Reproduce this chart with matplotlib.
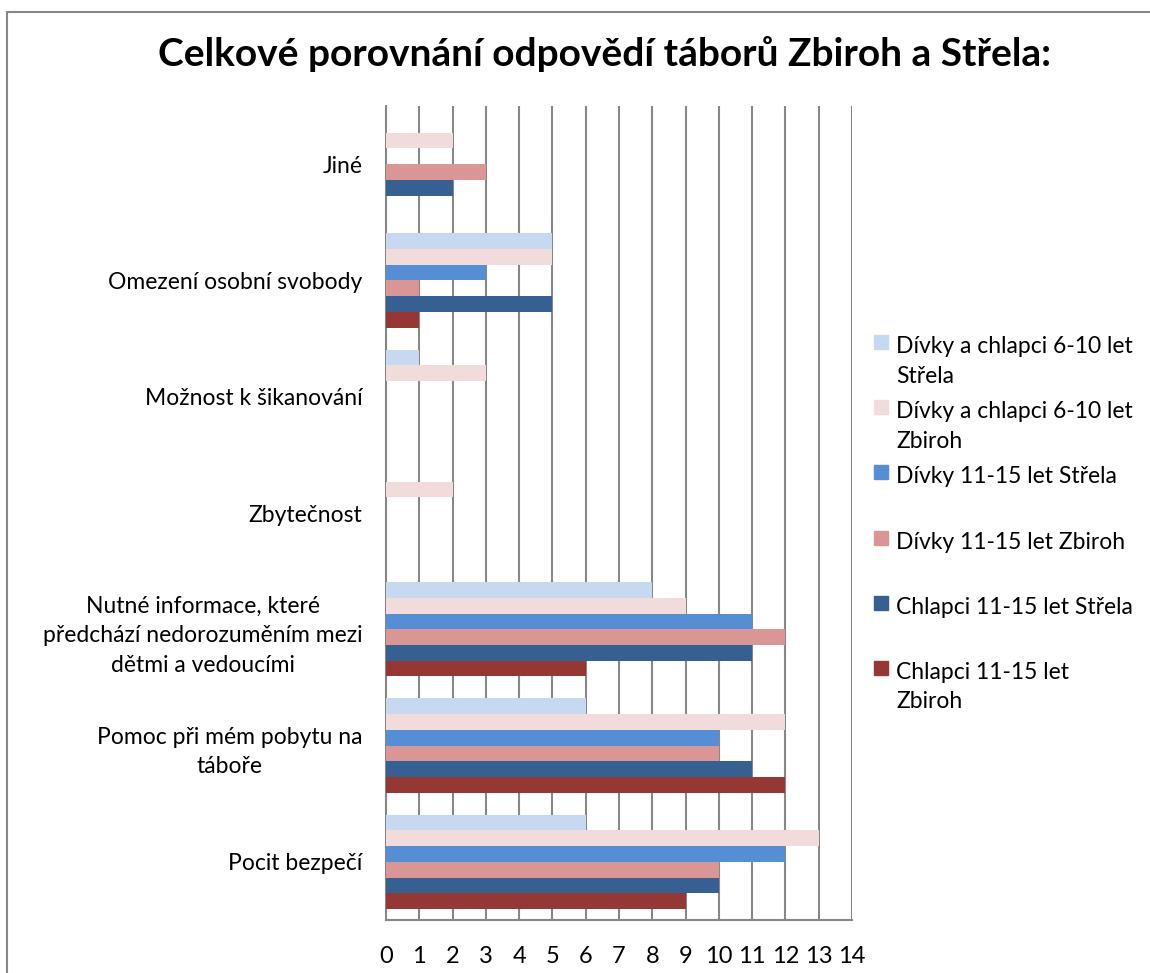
import matplotlib.pyplot as plt
import matplotlib.patches as mpatches
import numpy as np

plt.rcParams['font.family'] = ['Lato', 'DejaVu Sans']

# Data (categories listed bottom to top)
categories = ['Pocit bezpečí',
              'Pomoc při mém pobytu na\ntáboře',
              'Nutné informace, které\npředchází nedorozuměním mezi\ndětmi a vedoucími',
              'Zbytečnost',
              'Možnost k šikanování',
              'Omezení osobní svobody',
              'Jiné']

series_names = ['Dívky a chlapci 6-10 let\nStřela',
                'Dívky a chlapci 6-10 let\nZbiroh',
                'Dívky 11-15 let Střela',
                'Dívky 11-15 let Zbiroh',
                'Chlapci 11-15 let Střela',
                'Chlapci 11-15 let\nZbiroh']

divky_chlapci_6_10_strela = [6, 6, 8, 0, 1, 5, 0]
divky_chlapci_6_10_zbiroh = [13, 12, 9, 2, 3, 5, 2]
divky_11_15_strela = [12, 10, 11, 0, 0, 3, 0]
divky_11_15_zbiroh = [10, 10, 12, 0, 0, 1, 3]
chlapci_11_15_strela = [10, 11, 11, 0, 0, 5, 2]
chlapci_11_15_zbiroh = [9, 12, 6, 0, 0, 1, 0]

series = [divky_chlapci_6_10_strela, divky_chlapci_6_10_zbiroh,
          divky_11_15_strela, divky_11_15_zbiroh,
          chlapci_11_15_strela, chlapci_11_15_zbiroh]
colors = ['#C6D9F1', '#F2DCDB', '#558ED5', '#D99694', '#376092', '#953735']

W, H = 1150, 973
fig = plt.figure(figsize=(W / 100, H / 100), dpi=100)
ax = fig.add_axes([386 / W, 1 - 920 / H, (852 - 386) / W, (920 - 106) / H])

y = np.arange(len(categories))
h = 0.135
for j, (vals, col) in enumerate(zip(series, colors)):
    ax.barh(y + (2.5 - j) * h, vals, height=h, color=col, zorder=3)

ax.set_xlim(0, 14)
ax.set_ylim(-0.5, len(categories) - 0.5)
ax.set_xticks(range(0, 15))
ax.set_yticks(y)
ax.set_yticklabels(categories, fontsize=16.5, multialignment='center', linespacing=1.5)
ax.tick_params(axis='x', length=0, labelsize=17, pad=19)
ax.tick_params(axis='y', length=0, pad=17)
ax.grid(axis='x', color='#878787', linewidth=1.5, zorder=0)
for s in ['top', 'right']:
    ax.spines[s].set_visible(False)
for s in ['left', 'bottom']:
    ax.spines[s].set_color('#878787')
    ax.spines[s].set_linewidth(1.5)

fig.text(604 / W, 1 - 54 / H, 'Celkové porovnání odpovědí táborů Zbiroh a Střela:',
         ha='center', va='center', fontsize=28, fontweight='bold')

# legend drawn by hand to get the evenly spaced Excel look
for k, (name, col) in enumerate(zip(series_names, colors)):
    cy = 342 + k * 65.2
    fig.patches.append(mpatches.Rectangle((874 / W, 1 - (cy + 7) / H), 14 / W, 14 / H,
                                          transform=fig.transFigure, color=col))
    fig.text(896 / W, 1 - (cy - 6) / H, name, ha='left', va='top',
             fontsize=16.5, linespacing=1.5)

# outer chart frame
fig.patches.append(mpatches.Rectangle((7 / W, -0.1), 1.2, 1 - 12 / H + 0.1,
                                      transform=fig.transFigure, fill=False,
                                      edgecolor='#878787', linewidth=1.5))

fig.savefig('out.png', dpi=100)
